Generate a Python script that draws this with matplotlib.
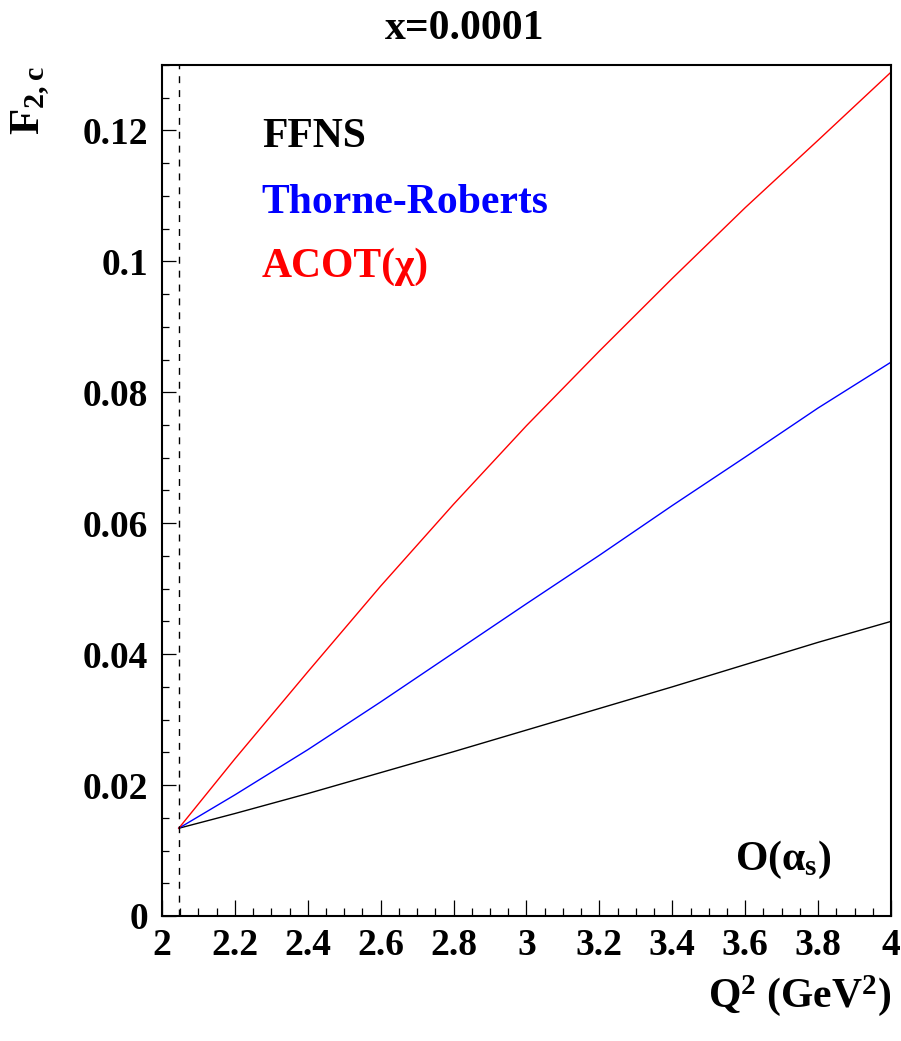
import matplotlib
matplotlib.use('Agg')
import matplotlib.pyplot as plt
from matplotlib.ticker import MultipleLocator

plt.rcParams['font.family'] = ['Liberation Serif', 'DejaVu Serif']
plt.rcParams['font.weight'] = 'bold'
plt.rcParams['mathtext.fontset'] = 'custom'
plt.rcParams['mathtext.rm'] = 'Liberation Serif:bold'
plt.rcParams['mathtext.it'] = 'Liberation Serif:bold'
plt.rcParams['mathtext.bf'] = 'Liberation Serif:bold'
plt.rcParams['mathtext.default'] = 'rm'

# F2c vs Q^2 at x = 1e-4, O(alpha_s)
q2 = [2.046, 2.2, 2.4, 2.6, 2.8, 3.0, 3.2, 3.4, 3.6, 3.8, 4.0]
f2c_ffns = [0.0134, 0.01565, 0.0187, 0.0219, 0.0251, 0.0284, 0.0317, 0.0350, 0.0384, 0.0418, 0.0450]
f2c_tr = [0.0134, 0.0185, 0.0254, 0.0327, 0.0402, 0.0477, 0.0551, 0.0627, 0.0701, 0.0776, 0.0846]
f2c_acot = [0.0134, 0.0240, 0.0373, 0.0504, 0.0629, 0.0749, 0.0863, 0.0974, 0.1082, 0.1185, 0.1289]
threshold = 2.046

fig = plt.figure(figsize=(9.01, 10.41), dpi=100)
ax = fig.add_axes([0.1798, 0.1201, 0.8091, 0.8175])

ax.plot(q2, f2c_ffns, color='black', lw=1.0)
ax.plot(q2, f2c_tr, color='blue', lw=1.0)
ax.plot(q2, f2c_acot, color='red', lw=1.0)
ax.axvline(threshold, color='black', lw=1.0, ls=(0, (5, 5)))

ax.set_xlim(2, 4)
ax.set_ylim(0, 0.130)
ax.xaxis.set_major_locator(MultipleLocator(0.2))
ax.xaxis.set_minor_locator(MultipleLocator(0.05))
ax.yaxis.set_major_locator(MultipleLocator(0.02))
ax.yaxis.set_minor_locator(MultipleLocator(0.005))
ax.xaxis.set_major_formatter(plt.FuncFormatter(lambda v, p: '%g' % round(v, 3)))
ax.yaxis.set_major_formatter(plt.FuncFormatter(lambda v, p: '%g' % round(v, 4)))

ax.tick_params(axis='both', which='both', direction='in', top=False, right=False,
               width=0.9, labelsize=27)
ax.tick_params(axis='x', which='major', length=11.5, pad=9)
ax.tick_params(axis='x', which='minor', length=5.8)
ax.tick_params(axis='y', which='major', length=10, pad=10)
ax.tick_params(axis='y', which='minor', length=5)
for lbl in ax.get_xticklabels() + ax.get_yticklabels():
    lbl.set_fontweight('bold')
for s in ax.spines.values():
    s.set_linewidth(1.5)

tx = 0.137
ax.text(tx, 0.9036, 'FFNS', color='black', fontsize=30, fontweight='bold',
        transform=ax.transAxes, va='baseline')
ax.text(tx, 0.8261, 'Thorne-Roberts', color='blue', fontsize=30, fontweight='bold',
        transform=ax.transAxes, va='baseline')
ax.text(tx, 0.7509, 'ACOT(χ)', color='red', fontsize=30, fontweight='bold',
        transform=ax.transAxes, va='baseline')
ax.text(0.786, 0.054, r'O($\alpha_{s}$)', color='black', fontsize=30, fontweight='bold',
        transform=ax.transAxes, va='baseline')

fig.text(0.516, 0.972, 'x=0.0001', fontsize=30, fontweight='bold', ha='center', va='center')
fig.text(0.989, 0.0327, r'Q$^{2}$ (GeV$^{2}$)', fontsize=30, fontweight='bold',
         ha='right', va='baseline')
fig.text(0.0344, 0.9366, r'F$_{2,c}$', fontsize=31, fontweight='bold', rotation=90,
         ha='center', va='top')

fig.savefig('out.png', dpi=100)
